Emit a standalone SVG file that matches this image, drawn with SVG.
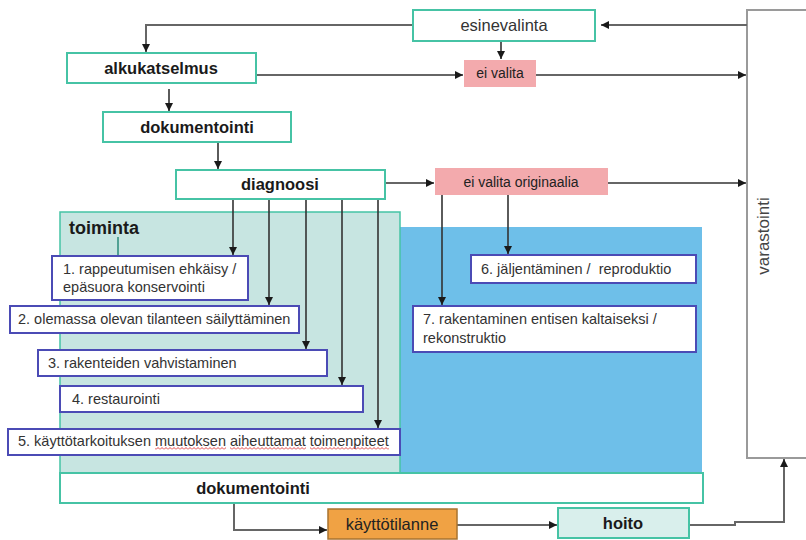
<svg xmlns="http://www.w3.org/2000/svg" width="806" height="540" viewBox="0 0 806 540">
<style>
.tb{fill:#fff;stroke:#46c3a5;stroke-width:2}
.bb{fill:#fff;stroke:#4b4bb5;stroke-width:2}
.pk{fill:#f3aaad}
.h{font-family:"Liberation Sans",Arial,sans-serif;font-weight:bold;font-size:16.5px;fill:#1a1a1a}
.r{font-family:"Liberation Sans",Arial,sans-serif;font-size:14.5px;fill:#333}
.c{fill:none;stroke:#333;stroke-width:1.6}
.g{fill:none;stroke:#666;stroke-width:2}
</style>
<defs>
<marker id="ah" markerUnits="userSpaceOnUse" markerWidth="9" markerHeight="9" refX="8" refY="4" orient="auto">
<path d="M0,0 L8,4 L0,8 z" fill="#1a1a1a"/>
</marker>
<pattern id="wave" width="4" height="3" patternUnits="userSpaceOnUse">
<path d="M0,2.5 L2,0.5 L4,2.5" fill="none" stroke="#e03030" stroke-width="0.9"/>
</pattern>
</defs>
<rect width="806" height="540" fill="#fff"/>
<g id="panels">
<rect x="400" y="227" width="302" height="246" fill="#6ebfe9"/>
<rect x="60" y="212" width="340" height="261" fill="#c7e5e1" stroke="#46c3a5" stroke-width="1.5"/>
<text class="h" x="69" y="234" style="font-size:18px">toiminta</text>
</g>
<g id="varastointi">
<rect x="747" y="10" width="70" height="448" fill="#fff" stroke="#9a9a9a" stroke-width="2"/>
<text class="r" transform="translate(769,236) rotate(-90)" text-anchor="middle" style="font-size:17px;fill:#444">varastointi</text>
</g>
<g id="connectors">
<path class="g" d="M747,25 H601" marker-end="url(#ah)"/>
<path class="g" d="M413,25 H146 V52" marker-end="url(#ah)"/>
<path class="g" d="M256,75 H463" marker-end="url(#ah)"/>
<path class="g" d="M536,75 H746" marker-end="url(#ah)"/>
<path class="c" d="M501,41 V59" marker-end="url(#ah)"/>
<path class="c" d="M169,89 V111" marker-end="url(#ah)"/>
<path class="c" d="M218,142 V169" marker-end="url(#ah)"/>
<path class="g" d="M385,183 H434" marker-end="url(#ah)"/>
<path class="g" d="M608,183 H746" marker-end="url(#ah)"/>
<path class="c" d="M233,199 V255" marker-end="url(#ah)"/>
<path class="c" d="M269,199 V305" marker-end="url(#ah)"/>
<path class="c" d="M306,199 V349" marker-end="url(#ah)"/>
<path class="c" d="M342,199 V385" marker-end="url(#ah)"/>
<path class="c" d="M378,199 V428" marker-end="url(#ah)"/>
<path class="c" d="M442,195 V305" marker-end="url(#ah)"/>
<path class="c" d="M508,195 V254" marker-end="url(#ah)"/>
<path d="M118,237 V256" fill="none" stroke="#2a8a7a" stroke-width="1.5"/>
<path class="g" d="M234,503 V530 H327" marker-end="url(#ah)"/>
<path class="g" d="M457,525 H557" marker-end="url(#ah)"/>
<path class="g" d="M689,525 H735 V522 H784 V459" marker-end="url(#ah)"/>
</g>
<g id="esinevalinta">
<rect class="tb" x="413" y="10" width="182" height="31"/>
<text class="r" x="504" y="31" text-anchor="middle" style="font-size:16.5px">esinevalinta</text>
</g>
<g id="alkukatselmus">
<rect class="tb" x="67" y="53" width="189" height="30"/>
<text class="h" x="161" y="74" text-anchor="middle">alkukatselmus</text>
</g>
<g id="ei-valita">
<rect class="pk" x="464" y="60" width="72" height="27"/>
<text class="r" x="500" y="78" text-anchor="middle" style="fill:#222;font-size:14px">ei valita</text>
</g>
<g id="dokumentointi1">
<rect class="tb" x="103" y="112" width="188" height="30"/>
<text class="h" x="197" y="133" text-anchor="middle">dokumentointi</text>
</g>
<g id="diagnoosi">
<rect class="tb" x="176" y="170" width="209" height="29"/>
<text class="h" x="280" y="190" text-anchor="middle">diagnoosi</text>
</g>
<g id="ei-valita-originaalia">
<rect class="pk" x="435" y="168" width="173" height="27"/>
<text class="r" x="521" y="187" text-anchor="middle" style="fill:#222;font-size:14px">ei valita originaalia</text>
</g>
<g id="box1">
<rect class="bb" x="52" y="256" width="196" height="44"/>
<text class="r" x="63" y="274">1. rappeutumisen ehkäisy /</text>
<text class="r" x="63" y="292">epäsuora konservointi</text>
</g>
<g id="box2">
<rect class="bb" x="10" y="306" width="289" height="27"/>
<text class="r" x="18" y="324">2. olemassa olevan tilanteen säilyttäminen</text>
</g>
<g id="box3">
<rect class="bb" x="38" y="350" width="289" height="26"/>
<text class="r" x="48" y="368">3. rakenteiden vahvistaminen</text>
</g>
<g id="box4">
<rect class="bb" x="60" y="386" width="303" height="26"/>
<text class="r" x="72" y="404">4. restaurointi</text>
</g>
<g id="box5">
<rect class="bb" x="8" y="429" width="392" height="26"/>
<text class="r" x="18" y="446">5. käyttötarkoituksen muutoksen aiheuttamat toimenpiteet</text>
<rect x="155" y="447" width="71" height="3" fill="url(#wave)"/>
<rect x="230" y="447" width="76" height="3" fill="url(#wave)"/>
<rect x="310" y="447" width="79" height="3" fill="url(#wave)"/>
</g>
<g id="box6">
<rect class="bb" x="471" y="255" width="225" height="28"/>
<text class="r" x="481" y="274" xml:space="preserve">6. jäljentäminen /  reproduktio</text>
</g>
<g id="box7">
<rect class="bb" x="413" y="306" width="283" height="46"/>
<text class="r" x="423" y="324">7. rakentaminen entisen kaltaiseksi /</text>
<text class="r" x="423" y="343">rekonstruktio</text>
</g>
<g id="dokumentointi2">
<rect class="tb" x="60" y="473" width="643" height="30"/>
<text class="h" x="253" y="494" text-anchor="middle">dokumentointi</text>
</g>
<g id="kayttotilanne">
<rect x="328" y="509" width="129" height="30" fill="#f0a244" stroke="#a8732f" stroke-width="1.5"/>
<text class="r" x="392" y="530" text-anchor="middle" style="font-size:16.5px;fill:#222">käyttötilanne</text>
</g>
<g id="hoito">
<rect x="558" y="508" width="131" height="30" fill="#d9efec" stroke="#46c3a5" stroke-width="2"/>
<text class="h" x="623" y="529" text-anchor="middle">hoito</text>
</g>
</svg>
